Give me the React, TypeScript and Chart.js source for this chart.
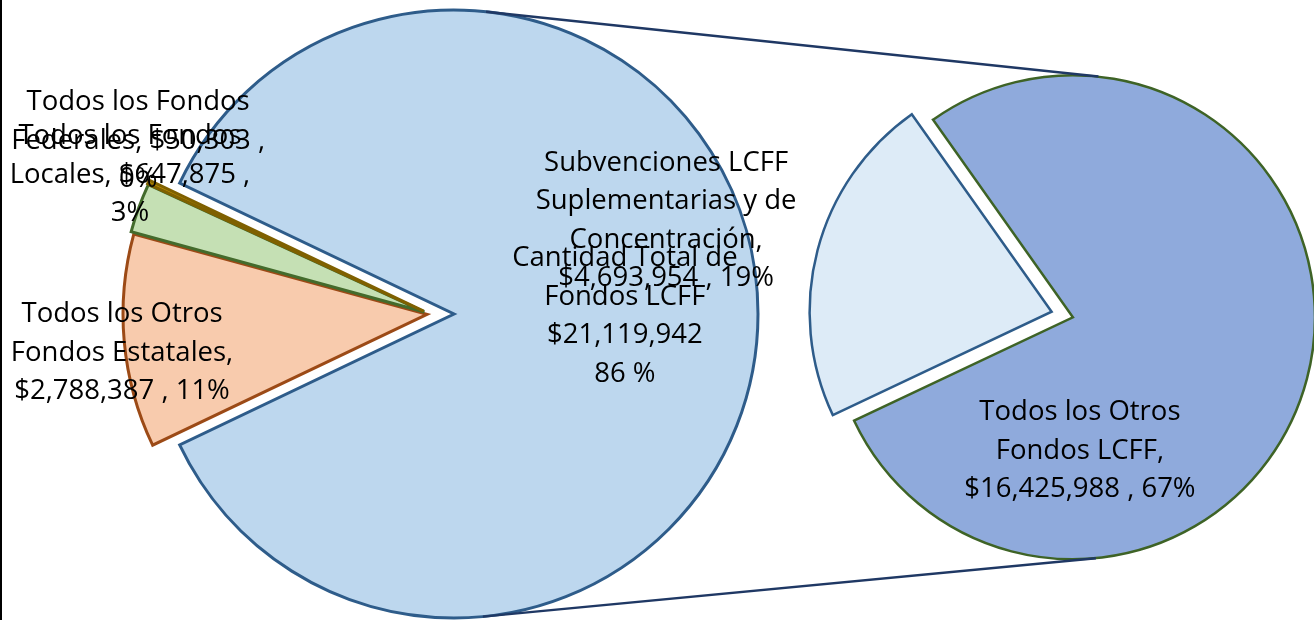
import React, { useEffect, useRef } from "react";
import { Chart, registerables } from "chart.js";

Chart.register(...registerables);

// ---------- data ----------
const mainCategories = [
  "Cantidad Total de Fondos LCFF",
  "Todos los Otros Fondos Estatales",
  "Todos los Fondos Locales",
  "Todos los Fondos Federales",
];
const mainValues = [21119942, 2788387, 647875, 50303];
const mainLabelLines = [
  ["Cantidad Total de", "Fondos LCFF", "{v}", "{p} %"],
  ["Todos los Otros", "Fondos Estatales,", "{v} , {p}%"],
  ["Todos los Fondos", "Locales, {v} ,", "{p}%"],
  ["Todos los Fondos", "Federales, {v} ,", "{p}%"],
];

const detailCategories = [
  "Subvenciones LCFF Suplementarias y de Concentración",
  "Todos los Otros Fondos LCFF",
];
const detailValues = [4693954, 16425988];
const detailLabelLines = [
  ["Subvenciones LCFF", "Suplementarias y de", "Concentración,", "{v} , {p}%"],
  ["Todos los Otros", "Fondos LCFF,", "{v} , {p}%"],
];

// ---------- styles / layout ----------
const W = 1314;
const H = 620;
const FONT = '27.5px "Open Sans", "Noto Sans", sans-serif';
const LINE_H = 38.5;

const MAIN = {
  cx: 430,
  cy: 314,
  r: 304,
  firstMidDeg: 0,
  explode: [24, 3, 6, 7],
  fills: ["#BDD7EE", "#F8CBAD", "#C5E0B4", "#BF9000"],
  borders: ["#2E5C8A", "#9C4A16", "#436B2C", "#7F6000"],
  borderWidth: 3,
  labelPos: [
    [0.641, 0.007],
    [-1.013, 0.128],
    [-0.987, -0.457],
    [-0.96, -0.57],
  ],
};

const DETAIL = {
  cx: 1070,
  cy: 316.5,
  r: 242,
  firstMidDeg: 194.7,
  explode: [19, 3],
  fills: ["#DDEBF7", "#8FAADC"],
  borders: ["#2E5C8A", "#3E6326"],
  borderWidth: 2.5,
  labelPos: [
    [-1.669, -0.395],
    [0.041, 0.556],
  ],
};

const grandTotal = mainValues.reduce((a, b) => a + b, 0);
const fmtMoney = (v: number) => "$" + v.toLocaleString("en-US");
const fmtPct = (v: number) => String(Math.round((v / grandTotal) * 100));

function buildLines(tpl: string[], v: number) {
  return tpl.map((l) => l.replace("{v}", fmtMoney(v)).replace("{p}", fmtPct(v)));
}

const explodePlugin = {
  id: "explode",
  afterDatasetsUpdate(chart: any, _args: any, opts: any) {
    const meta = chart.getDatasetMeta(0);
    const ca = chart.chartArea;
    const cx = (ca.left + ca.right) / 2;
    const cy = (ca.top + ca.bottom) / 2;
    meta.data.forEach((arc: any, i: number) => {
      const mid = (arc.startAngle + arc.endAngle) / 2;
      const e = (opts.amounts && opts.amounts[i]) || 0;
      arc.x = cx + Math.cos(mid) * e;
      arc.y = cy + Math.sin(mid) * e;
    });
  },
};

const labelPlugin = {
  id: "pieLabels",
  afterDraw(chart: any, _args: any, opts: any) {
    const ctx = chart.ctx;
    const ca = chart.chartArea;
    const cx = (ca.left + ca.right) / 2;
    const cy = (ca.top + ca.bottom) / 2;
    const r = opts.radius;
    const values = chart.data.datasets[0].data as number[];
    ctx.save();
    ctx.font = FONT;
    ctx.fillStyle = "#000000";
    ctx.textAlign = "center";
    ctx.textBaseline = "middle";
    values.forEach((v, i) => {
      const lines = buildLines(opts.templates[i], v);
      const [fx, fy] = opts.positions[i];
      const x = cx + fx * r;
      const y = cy + fy * r;
      const top = y - ((lines.length - 1) * LINE_H) / 2;
      lines.forEach((ln: string, k: number) => ctx.fillText(ln, x, top + k * LINE_H));
    });
    ctx.restore();
  },
};

function makeConnector(getMain: () => Chart | null) {
  return {
    id: "connector",
    afterDraw(chart: any) {
      const main = getMain();
      if (!main) return;
      const a: any = main.getDatasetMeta(0).data[0];
      const b: any = chart.getDatasetMeta(0).data[1];
      if (!a || !b) return;
      const x1 = a.x, y1 = a.y, r1 = a.outerRadius;
      const x2 = b.x, y2 = b.y, r2 = b.outerRadius;
      const dx = x2 - x1, dy = y2 - y1;
      const d = Math.hypot(dx, dy);
      const phi = Math.atan2(dy, dx);
      const alpha = Math.acos((r1 - r2) / d);
      const ctx = chart.ctx;
      ctx.save();
      ctx.strokeStyle = "#1F3864";
      ctx.lineWidth = 2.5;
      [phi - alpha, phi + alpha].forEach((t) => {
        ctx.beginPath();
        ctx.moveTo(x1 + Math.cos(t) * r1, y1 + Math.sin(t) * r1);
        ctx.lineTo(x2 + Math.cos(t) * r2, y2 + Math.sin(t) * r2);
        ctx.stroke();
      });
      ctx.restore();
    },
  };
}

function pieConfig(
  categories: string[],
  values: number[],
  cfg: typeof MAIN,
  templates: string[][],
  extraPlugins: any[]
): any {
  const total = values.reduce((a, b) => a + b, 0);
  const firstFrac = values[0] / total;
  const startDeg = cfg.firstMidDeg - firstFrac * 180; // canvas angle of first slice start
  const rotation = startDeg + 90; // chart.js: 0 = top
  return {
    type: "pie",
    data: {
      labels: categories,
      datasets: [
        {
          data: values,
          backgroundColor: cfg.fills,
          borderColor: cfg.borders,
          borderWidth: cfg.borderWidth,
          borderJoinStyle: "miter",
          borderAlign: "center",
        },
      ],
    },
    options: {
      responsive: false,
      animation: false,
      rotation,
      radius: cfg.r,
      layout: {
        padding: {
          left: Math.max(0, 2 * cfg.cx - W),
          right: Math.max(0, W - 2 * cfg.cx),
          top: Math.max(0, 2 * cfg.cy - H),
          bottom: Math.max(0, H - 2 * cfg.cy),
        },
      },
      events: [],
      plugins: {
        legend: { display: false },
        tooltip: { enabled: false },
        title: { display: false },
        explode: { amounts: cfg.explode },
        pieLabels: { templates, positions: cfg.labelPos, radius: cfg.r },
      },
    },
    plugins: [explodePlugin, labelPlugin, ...extraPlugins],
  };
}

export default function App() {
  const mainRef = useRef<HTMLCanvasElement | null>(null);
  const detailRef = useRef<HTMLCanvasElement | null>(null);

  useEffect(() => {
    if (!mainRef.current || !detailRef.current) return;
    const mainChart = new Chart(
      mainRef.current,
      pieConfig(mainCategories, mainValues, MAIN, mainLabelLines, [])
    );
    const detailChart = new Chart(
      detailRef.current,
      pieConfig(detailCategories, detailValues, DETAIL as any, detailLabelLines, [
        makeConnector(() => mainChart),
      ])
    );
    return () => {
      detailChart.destroy();
      mainChart.destroy();
    };
  }, []);

  const canvasStyle: React.CSSProperties = {
    position: "absolute",
    left: 0,
    top: 0,
    width: W,
    height: H,
  };

  return (
    <div
      style={{
        position: "fixed",
        left: 0,
        top: 0,
        width: W,
        height: H,
        background: "#ffffff",
        overflow: "hidden",
      }}
    >
      <canvas ref={mainRef} width={W} height={H} style={canvasStyle} />
      <canvas ref={detailRef} width={W} height={H} style={canvasStyle} />
      <div
        style={{
          position: "absolute",
          left: 0,
          top: 0,
          width: 2,
          height: H,
          background: "#000000",
        }}
      />
    </div>
  );
}
